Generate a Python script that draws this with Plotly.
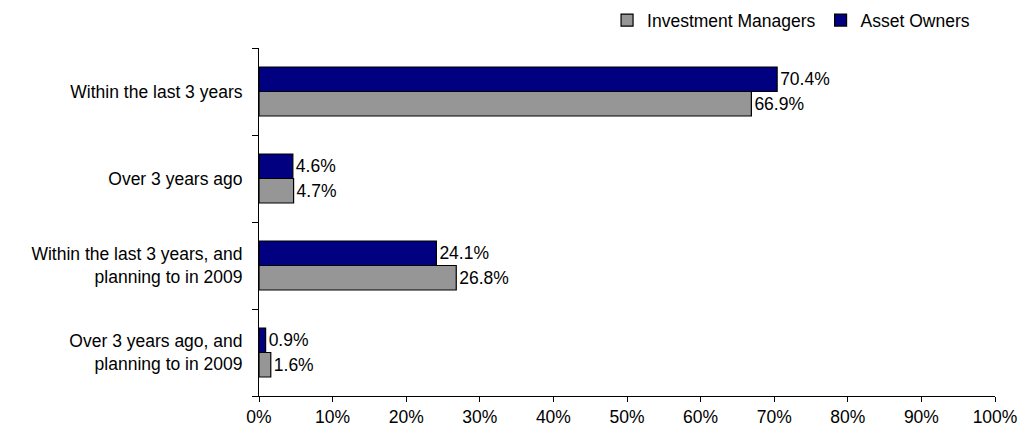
import plotly.graph_objects as go

categories = [
    "Within the last 3 years",
    "Over 3 years ago",
    "Within the last 3 years, and<br>planning to in 2009",
    "Over 3 years ago, and<br>planning to in 2009",
]
investment_managers = [66.9, 4.7, 26.8, 1.6]
asset_owners = [70.4, 4.6, 24.1, 0.9]
x_ticks = list(range(0, 101, 10))
x_tick_labels = [f"{v}%" for v in x_ticks]

FONT = "Liberation Sans, Arial, sans-serif"
FS = 17.5

fig = go.Figure()
fig.add_trace(go.Bar(
    name="Investment Managers", y=categories, x=investment_managers, orientation="h",
    marker=dict(color="#969696", line=dict(color="#000000", width=1.2)),
    text=[f"{v:.1f}%" for v in investment_managers], textposition="outside",
    textfont=dict(family=FONT, size=FS, color="#000000"), cliponaxis=False,
))
fig.add_trace(go.Bar(
    name="Asset Owners", y=categories, x=asset_owners, orientation="h",
    marker=dict(color="#000080", line=dict(color="#000000", width=1.2)),
    text=[f"{v:.1f}%" for v in asset_owners], textposition="outside",
    textfont=dict(family=FONT, size=FS, color="#000000"), cliponaxis=False,
))

fig.update_layout(
    width=1021, height=435,
    margin=dict(l=259, r=26, t=48, b=39, autoexpand=False),
    paper_bgcolor="white", plot_bgcolor="white",
    font=dict(family=FONT, size=FS, color="#000000"),
    barmode="group", bargap=0.437, bargroupgap=0,
    showlegend=True,
    legend=dict(orientation="h", x=0.955, xanchor="right", y=0.995, yanchor="top",
                yref="container", xref="container", font=dict(family=FONT, size=FS),
                itemwidth=30, tracegroupgap=0, bgcolor="rgba(0,0,0,0)"),
    xaxis=dict(range=[0, 100], tickvals=x_ticks, ticktext=x_tick_labels, showgrid=False,
               zeroline=False, showline=True, linecolor="#000000", linewidth=1,
               ticks="outside", ticklen=5, tickcolor="#000000", tickfont=dict(size=FS)),
    yaxis=dict(type="category", categoryorder="array", categoryarray=categories[::-1],
               showgrid=False, zeroline=False, showline=True, linecolor="#000000",
               linewidth=1, ticks="outside", ticklen=6, tickcolor="#000000",
               tickson="boundaries", ticklabelstandoff=12, tickfont=dict(size=FS)),
)
fig.write_html("out.html", config={"displayModeBar": False},
               post_script="document.body.style.margin='0px';")
